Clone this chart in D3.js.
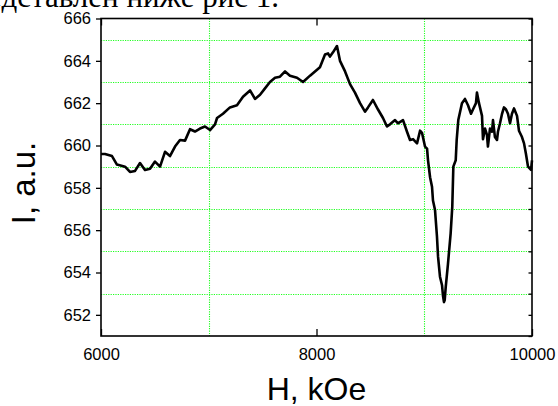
<!DOCTYPE html>
<html>
<head>
<meta charset="utf-8">
<script src="https://cdn.jsdelivr.net/npm/d3@7/dist/d3.min.js"></script>
<style>
  html, body { margin: 0; padding: 0; background: #fff; }
  svg { display: block; }
</style>
</head>
<body>
<svg id="chart" width="558" height="406"></svg>
<script>
// Field H (kOe) and intensity I (a.u.)
const fieldH = [
  6000, 6037, 6102, 6148, 6223, 6269, 6316, 6362, 6408, 6455, 6501, 6548, 6594, 6640,
  6687, 6733, 6780, 6826, 6872, 6919, 6965, 7012, 7058, 7077, 7132, 7197, 7262, 7318,
  7383, 7429, 7476, 7522, 7568, 7615, 7661, 7708, 7754, 7819, 7875, 7940, 7986, 8032,
  8079, 8107, 8125, 8153, 8190, 8218, 8265, 8311, 8357, 8404, 8450, 8478, 8524, 8571,
  8617, 8654, 8682, 8729, 8756, 8803, 8840, 8868, 8896, 8933, 8961, 8979, 9007, 9026,
  9035, 9054, 9072, 9081, 9100, 9118, 9128, 9146, 9165, 9174, 9183, 9190, 9199, 9220,
  9245, 9260, 9270, 9292, 9301, 9316, 9350, 9378, 9406, 9434, 9452, 9480, 9489, 9508,
  9536, 9545, 9564, 9582, 9591, 9610, 9629, 9638, 9656, 9675, 9684, 9703, 9722, 9740,
  9759, 9777, 9796, 9814, 9833, 9861, 9879, 9907, 9926, 9944, 9963, 9991, 10000
];
const intensity = [
  659.6, 659.6, 659.5, 659.1, 659.0, 658.75, 658.8, 659.17, 658.84, 658.9, 659.24, 659.0, 659.7, 659.5,
  659.95, 660.26, 660.23, 660.77, 660.66, 660.8, 660.9, 660.73, 661.0, 661.3, 661.5, 661.8, 661.9, 662.3,
  662.6, 662.2, 662.4, 662.7, 663.0, 663.2, 663.25, 663.5, 663.3, 663.2, 663.0, 663.3, 663.5, 663.7,
  664.3, 664.35, 664.2, 664.4, 664.7, 664.0, 663.5, 662.9, 662.5, 662.0, 661.6, 661.8, 662.15, 661.7,
  661.3, 660.9, 661.0, 661.2, 661.05, 661.2, 660.65, 660.26, 660.3, 660.1, 660.7, 660.6, 659.95, 659.85,
  659.3, 658.5, 658.05, 657.4, 656.95, 655.7, 654.75, 653.8, 653.4, 652.9, 652.6, 652.7, 653.3, 654.4,
  655.85, 657.1, 659.0, 659.3, 660.26, 661.2, 662.0, 662.2, 661.9, 661.5, 661.7, 662.0, 662.5, 662.0,
  661.4, 660.3, 660.8, 660.5, 659.95, 660.8, 660.65, 661.2, 660.4, 660.26, 660.65, 661.05, 661.5, 661.8,
  661.7, 661.5, 661.05, 661.5, 661.75, 661.4, 660.7, 660.4, 660.1, 659.6, 659.0, 658.85, 659.3
];
const xTickValues = [6000, 8000, 10000];
const yTickValues = [652, 654, 656, 658, 660, 662, 664, 666];
const xGridValues = [7000, 9000];
const yGridValues = [653, 655, 657, 659, 661, 663, 665];
const yMinorValues = d3.range(651, 667);

const svg = d3.select("#chart");
const plotL = 101, plotR = 532, plotT = 18.5, plotB = 336;

const x = d3.scaleLinear().domain([6000, 10000]).range([plotL, plotR]);
const y = d3.scaleLinear().domain([651, 666]).range([plotB, plotT]);

// Heading fragment of the surrounding document
svg.append("text")
  .attr("x", 279).attr("y", 6.5)
  .attr("text-anchor", "end")
  .attr("font-family", "'Liberation Serif', 'Times New Roman', serif")
  .attr("font-size", 31)
  .attr("fill", "#000")
  .text("представлен ниже рис 1.");

// Dotted green grid
const grid = svg.append("g")
  .attr("stroke", "#22ff22")
  .attr("stroke-width", 1.1)
  .attr("stroke-dasharray", "1.2,1.2");
grid.selectAll("line.gx").data(xGridValues).join("line")
  .attr("class", "gx")
  .attr("x1", d => Math.round(x(d)) + 0.5).attr("x2", d => Math.round(x(d)) + 0.5)
  .attr("y1", plotT).attr("y2", plotB);
grid.selectAll("line.gy").data(yGridValues).join("line")
  .attr("class", "gy")
  .attr("y1", d => Math.round(y(d)) + 0.5).attr("y2", d => Math.round(y(d)) + 0.5)
  .attr("x1", plotL).attr("x2", plotR);

// Data curve
const line = d3.line().x((d, i) => x(fieldH[i])).y(d => y(d));
svg.append("path")
  .datum(intensity)
  .attr("d", line)
  .attr("fill", "none")
  .attr("stroke", "#000")
  .attr("stroke-width", 2.6)
  .attr("stroke-linejoin", "round");

const tickFont = "'Liberation Sans', Arial, sans-serif";

// Bottom axis: inward ticks, labels below
const xAxis = d3.axisBottom(x).tickValues(xTickValues).tickSize(-7).tickPadding(12)
  .tickFormat(d3.format("d"));
const gx = svg.append("g").attr("transform", `translate(0,${plotB})`).call(xAxis);
gx.select(".domain").remove();
gx.selectAll("text").attr("font-family", tickFont).attr("font-size", 16.5).attr("fill", "#000");
gx.selectAll("line").attr("stroke", "#000").attr("stroke-width", 1.3);

// Top axis: inward ticks only
const xTop = d3.axisTop(x).tickValues(xTickValues).tickSize(-7).tickFormat("");
const gt = svg.append("g").attr("transform", `translate(0,${plotT})`).call(xTop);
gt.select(".domain").remove();
gt.selectAll("line").attr("stroke", "#000").attr("stroke-width", 1.3);

// Left axis: outward ticks with labels
const yAxis = d3.axisLeft(y).tickValues(yTickValues).tickSize(5).tickPadding(5)
  .tickFormat(d3.format("d"));
const gy = svg.append("g").attr("transform", `translate(${plotL},0)`).call(yAxis);
gy.select(".domain").remove();
gy.selectAll("text").attr("font-family", tickFont).attr("font-size", 16.5).attr("fill", "#000");
gy.selectAll("line").attr("stroke", "#000").attr("stroke-width", 1.3);

// Right axis: short inward ticks at every unit
const yRight = d3.axisRight(y).tickValues(yMinorValues).tickSize(-3.5).tickFormat("");
const gr = svg.append("g").attr("transform", `translate(${plotR},0)`).call(yRight);
gr.select(".domain").remove();
gr.selectAll("line").attr("stroke", "#000").attr("stroke-width", 1.3);

// Frame
svg.append("rect")
  .attr("x", plotL).attr("y", plotT)
  .attr("width", plotR - plotL).attr("height", plotB - plotT)
  .attr("fill", "none").attr("stroke", "#000").attr("stroke-width", 1.6);

// Axis titles
svg.append("text")
  .attr("x", (plotL + plotR) / 2).attr("y", 400)
  .attr("text-anchor", "middle")
  .attr("font-family", tickFont).attr("font-size", 32)
  .attr("fill", "#000")
  .text("H, kOe");

svg.append("text")
  .attr("transform", `translate(35,183) rotate(-90)`)
  .attr("text-anchor", "middle")
  .attr("font-family", tickFont).attr("font-size", 33)
  .attr("fill", "#000")
  .text("I, a.u.");
</script>
</body>
</html>
